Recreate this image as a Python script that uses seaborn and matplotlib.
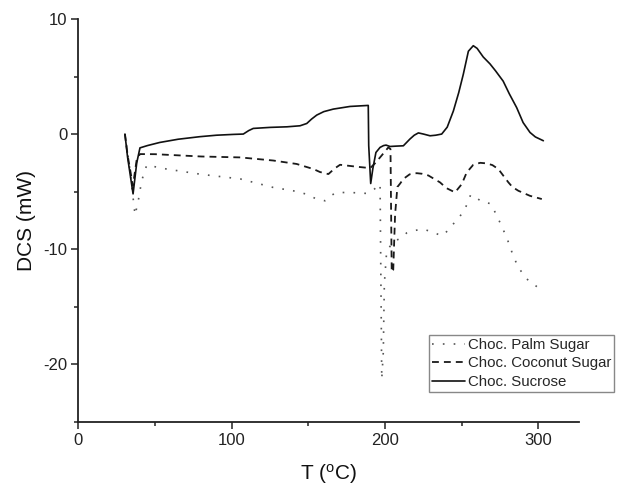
import matplotlib
matplotlib.use("Agg")
import matplotlib.pyplot as plt
from matplotlib.ticker import MultipleLocator
import seaborn as sns

# DSC curves (T in degC, heat flow in mW)
palm_t = [30.3, 33, 36.9, 39, 41.2, 44.5, 57.5, 80, 105.5, 127, 140, 148, 155.4, 160.8,
          164, 168.4, 180, 188, 192, 196.7, 197.2, 197.8, 198.8, 199.5, 201, 205, 210.8,
          214, 218.4, 224.9, 231.4, 236.9, 240, 243.4, 248, 252.1, 255.8, 260, 264, 268.4,
          271, 273.9, 279.3, 283.6, 286.9, 292.4, 299.3]
palm_q = [0, -2.5, -7.04, -5.8, -4.06, -2.7, -3.04, -3.5, -3.9, -4.64, -4.93, -5.2, -5.65, -5.8,
          -5.4, -5.07, -5.1, -5.16, -4.9, -4.35, -12, -21.3, -19.0, -13, -10.2, -9.4, -9.0,
          -8.6, -8.4, -8.26, -8.55, -8.84, -8.5, -7.97, -7.3, -6.52, -5.28, -5.6, -5.95, -6.03,
          -6.6, -7.39, -8.99, -10.6, -11.6, -12.6, -13.3]

coco_t = [30.3, 32, 35.5, 38, 40.1, 50, 57.5, 80, 105.5, 127, 142.3, 153.2, 157.5, 163,
          167, 170.6, 181.5, 190.2, 193, 196.7, 200, 202.1, 203.5, 204.3, 205.3, 206.5, 208,
          209.8, 211.9, 216, 220.6, 224, 228.2, 235.8, 240, 245.6, 250, 253.2, 257.5, 262,
          266.3, 270, 273.9, 277, 280.4, 283, 286.9, 294.5, 302.2]
coco_q = [0, -1.8, -4.5, -2.2, -1.74, -1.75, -1.8, -1.95, -2.03, -2.3, -2.6, -3.04, -3.3, -3.48,
          -3.0, -2.67, -2.84, -2.96, -2.6, -2.03, -1.5, -1.16, -1.3, -12.0, -11.8, -7.0, -4.6,
          -4.3, -3.9, -3.5, -3.4, -3.45, -3.6, -4.2, -4.7, -5.07, -4.35, -3.34, -2.67, -2.5,
          -2.55, -2.7, -3.05, -3.6, -4.2, -4.6, -4.93, -5.37, -5.65]

sucr_t = [30.3, 32, 35.6, 38, 40.1, 45, 53, 65, 79, 90, 101, 107.5, 111, 114, 125, 136, 144.5,
          148.9, 152, 155.4, 160, 166.2, 177.1, 189, 189.3, 190.6, 192, 194, 196.7, 199, 200.6,
          203.2, 207, 211.9, 216.2, 219, 221.7, 225, 229.3, 233, 236.9, 240.5, 244.5, 248, 251,
          254.3, 257.5, 260, 264, 268.4, 272, 277, 281, 285.8, 290, 294.5, 298, 303.2]
sucr_q = [0, -2.0, -5.2, -2.5, -1.2, -1.0, -0.73, -0.45, -0.23, -0.1, -0.03, 0.0, 0.3, 0.49,
          0.58, 0.63, 0.72, 0.92, 1.3, 1.65, 1.95, 2.17, 2.4, 2.49, -1.0, -4.3, -3.0, -1.6,
          -1.16, -1.0, -0.96, -1.08, -1.05, -1.02, -0.43, -0.1, 0.1, 0.0, -0.15, -0.1, 0.0,
          0.6, 2.0, 3.6, 5.2, 7.2, 7.68, 7.45, 6.7, 6.1, 5.5, 4.6, 3.5, 2.3, 1.0, 0.14,
          -0.25, -0.58]

labels = ["Choc. Palm Sugar", "Choc. Coconut Sugar", "Choc. Sucrose"]

sns.set_theme(style="ticks")
plt.rcParams['font.family'] = ['Liberation Sans', 'DejaVu Sans']
plt.rcParams['axes.unicode_minus'] = False
plt.rcParams['mathtext.fontset'] = 'custom'
plt.rcParams['mathtext.rm'] = 'Liberation Sans'
plt.rcParams['mathtext.it'] = 'Liberation Sans:italic'

fig = plt.figure(figsize=(6.18, 4.88), dpi=100)
ax = fig.add_axes([0.127, 0.136, 0.810, 0.825])

sns.lineplot(x=palm_t, y=palm_q, ax=ax, sort=False, color="#555555",
             linestyle=(0, (1, 5.5)), linewidth=1.2, label=labels[0])
sns.lineplot(x=coco_t, y=coco_q, ax=ax, sort=False, color="#1a1a1a",
             linestyle=(0, (3.8, 2.8)), linewidth=1.3, label=labels[1])
sns.lineplot(x=sucr_t, y=sucr_q, ax=ax, sort=False, color="#111111",
             linestyle="-", linewidth=1.2, label=labels[2])

ax.set_xlim(0, 326.5)
ax.set_ylim(-25, 10)
ax.xaxis.set_major_locator(MultipleLocator(100))
ax.xaxis.set_minor_locator(MultipleLocator(50))
ax.yaxis.set_major_locator(MultipleLocator(10))
ax.yaxis.set_minor_locator(MultipleLocator(5))
ax.tick_params(which="major", direction="out", length=5, width=1.1, labelsize=12,
               colors="#222222", pad=3)
ax.tick_params(which="minor", direction="out", length=3, width=1.1, colors="#222222")
for side in ["top", "right"]:
    ax.spines[side].set_visible(False)
for side in ["left", "bottom"]:
    ax.spines[side].set_linewidth(1.3)
    ax.spines[side].set_color("#222222")

ax.set_xlabel(r"T ($^{\mathrm{o}}$C)", fontsize=15, labelpad=10, color="#111111")
ax.set_ylabel("DCS (mW)", fontsize=15, labelpad=5, color="#111111")

ax.legend(loc="upper left", bbox_to_anchor=(0.694, 0.314), bbox_transform=fig.transFigure,
          fontsize=10.8, frameon=True, fancybox=False, edgecolor="#888888", framealpha=1,
          handlelength=2.2, handletextpad=0.2, borderpad=0.2, labelspacing=0.3,
          borderaxespad=0)

plt.savefig("out.png", dpi=100)
